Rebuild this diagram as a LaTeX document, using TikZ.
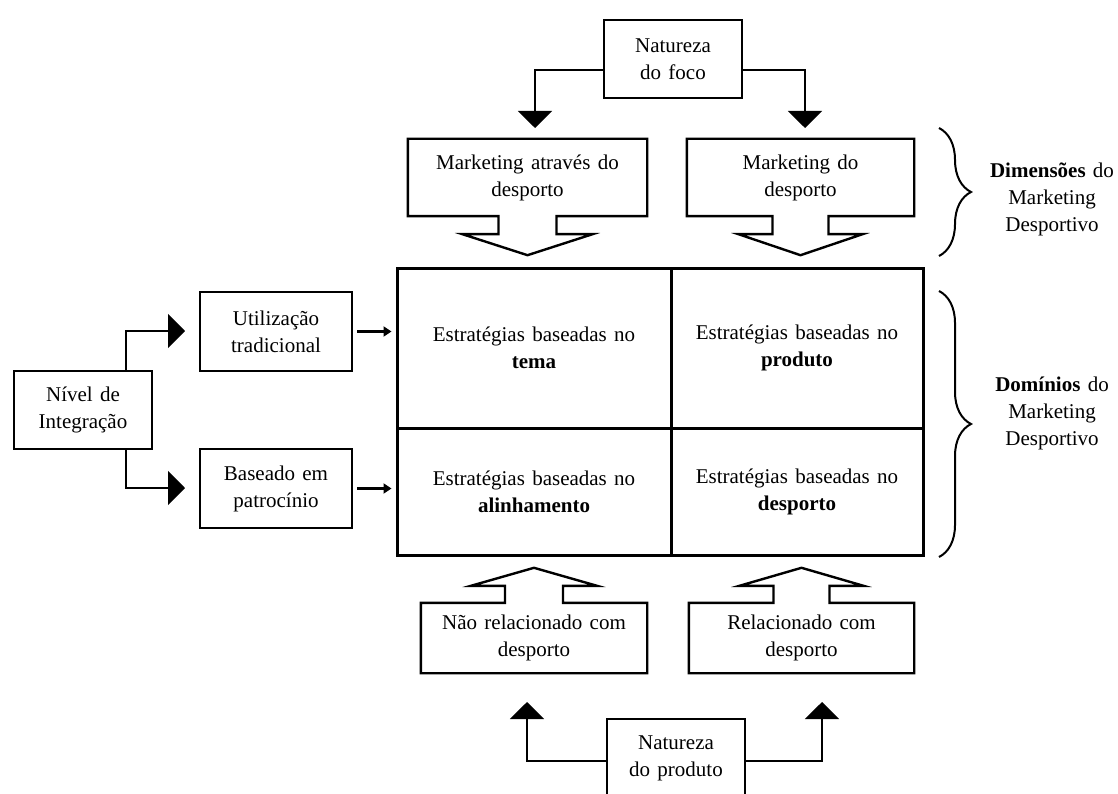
\documentclass[tikz,border=0pt]{standalone}
\usepackage{fontspec}
\setmainfont{Liberation Serif}
\usetikzlibrary{arrows.meta,calc,decorations.pathreplacing}
\newcommand\diagfont{\fontsize{21}{27}\selectfont\spaceskip=7.3pt plus 2pt minus 1pt}
\begin{document}
\begin{tikzpicture}[x=1pt,y=-1pt,
  every node/.style={font=\diagfont, align=center, inner sep=0pt},
  box/.style={draw, line width=2.4pt},
  cell/.style={draw, line width=3pt},
  callout/.style={draw, line width=2.4pt, line join=miter},
  bigtip/.style={line width=1.4pt, -{Triangle[width=34pt,length=17pt]}},
  smallarrow/.style={line width=3pt, -{Triangle[width=10pt,length=8pt]}, shorten <=4pt, shorten >=4pt},
  bracestyle/.style={line width=2pt, decorate, decoration={brace, amplitude=32pt}}
]
\useasboundingbox (0,0) rectangle (1118,794);

% central matrix of strategies
\node[cell, minimum width=274pt, minimum height=160pt] (c11) at (534,348) {Estratégias baseadas no\\\textbf{tema}};
\node[cell, minimum width=252pt, minimum height=160pt] (c12) at (797,348) {Estratégias baseadas no\\\textbf{produto}};
\node[cell, minimum width=274pt, minimum height=127pt] (c21) at (534,491.5) {Estratégias baseadas no\\\textbf{alinhamento}};
\node[cell, minimum width=252pt, minimum height=127pt] (c22) at (797,491.5) {Estratégias baseadas no\\\textbf{desporto}};

% focus nature (top)
\node[box, minimum width=138pt, minimum height=78pt] (foco) at (673,59) {Natureza\\do foco};
\node[minimum width=239pt, minimum height=77pt] (m1) at (527.5,177.5) {Marketing através do\\desporto};
\node[minimum width=227pt, minimum height=77pt] (m2) at (800.5,177.5) {Marketing do\\desporto};

\draw[callout] (m1.north west) -- (m1.north east) -- (m1.south east)
  -- ($(m1.south)+(29,0)$) -- ($(m1.south)+(29,18)$) -- ($(m1.south)+(65,18)$)
  -- ($(m1.south)+(0,39)$) -- ($(m1.south)+(-65,18)$) -- ($(m1.south)+(-29,18)$)
  -- ($(m1.south)+(-29,0)$) -- (m1.south west) -- cycle;
\draw[callout] (m2.north west) -- (m2.north east) -- (m2.south east)
  -- ($(m2.south)+(28,0)$) -- ($(m2.south)+(28,18)$) -- ($(m2.south)+(62,18)$)
  -- ($(m2.south)+(0,39)$) -- ($(m2.south)+(-62,18)$) -- ($(m2.south)+(-28,18)$)
  -- ($(m2.south)+(-28,0)$) -- (m2.south west) -- cycle;

\coordinate (ta1) at (535,128);
\coordinate (ta2) at (805,128);
\draw[bigtip] ([yshift=-11pt]foco.west) -| (ta1);
\draw[bigtip] ([yshift=-11pt]foco.east) -| (ta2);

% product nature (bottom)
\node[minimum width=226pt, minimum height=70pt] (b1) at (534,638) {Não relacionado com\\desporto};
\node[minimum width=225pt, minimum height=70pt] (b2) at (801.5,638) {Relacionado com\\desporto};

\draw[callout] (b1.south west) -- (b1.south east) -- (b1.north east)
  -- ($(b1.north)+(29,0)$) -- ($(b1.north)+(29,-17)$) -- ($(b1.north)+(63,-17)$)
  -- ($(b1.north)+(0,-35)$) -- ($(b1.north)+(-63,-17)$) -- ($(b1.north)+(-29,-17)$)
  -- ($(b1.north)+(-29,0)$) -- (b1.north west) -- cycle;
\draw[callout] (b2.south west) -- (b2.south east) -- (b2.north east)
  -- ($(b2.north)+(28,0)$) -- ($(b2.north)+(28,-17)$) -- ($(b2.north)+(62,-17)$)
  -- ($(b2.north)+(0,-35)$) -- ($(b2.north)+(-62,-17)$) -- ($(b2.north)+(-28,-17)$)
  -- ($(b2.north)+(-28,0)$) -- (b2.north west) -- cycle;

\node[box, minimum width=138pt, minimum height=78pt] (prod) at (676,758) {Natureza\\do produto};
\coordinate (tb1) at (527,702);
\coordinate (tb2) at (822,702);
\draw[bigtip] ([yshift=-3pt]prod.west) -| (tb1);
\draw[bigtip] ([yshift=-3pt]prod.east) -| (tb2);

% integration level (left)
\node[box, minimum width=138pt, minimum height=78pt] (niv) at (83,410) {Nível de\\Integração};
\node[box, minimum width=152pt, minimum height=79pt] (utl) at (276,331.5) {Utilização\\tradicional};
\node[box, minimum width=152pt, minimum height=79pt] (bas) at (276,488.5) {Baseado em\\patrocínio};

\coordinate (ti1) at (185,331);
\coordinate (ti2) at (185,488);
\draw[bigtip] ([xshift=43pt]niv.north) |- (ti1);
\draw[bigtip] ([xshift=43pt]niv.south) |- (ti2);

\draw[smallarrow] (utl.east) -- (utl.east -| c11.west);
\draw[smallarrow] (bas.east) -- (bas.east -| c21.west);

% braces and their labels (right)
\coordinate (br1a) at (939,128);
\coordinate (br1b) at (939,256);
\coordinate (br2a) at (939,291);
\coordinate (br2b) at (939,557);
\draw[bracestyle] (br1a) -- (br1b);
\draw[bracestyle] (br2a) -- (br2b);

\node (dim) at (1052,199.5) {\textbf{Dimensões} do\\Marketing\\Desportivo};
\node (dom) at (1052,413) {\textbf{Domínios} do\\Marketing\\Desportivo};
\end{tikzpicture}
\end{document}
